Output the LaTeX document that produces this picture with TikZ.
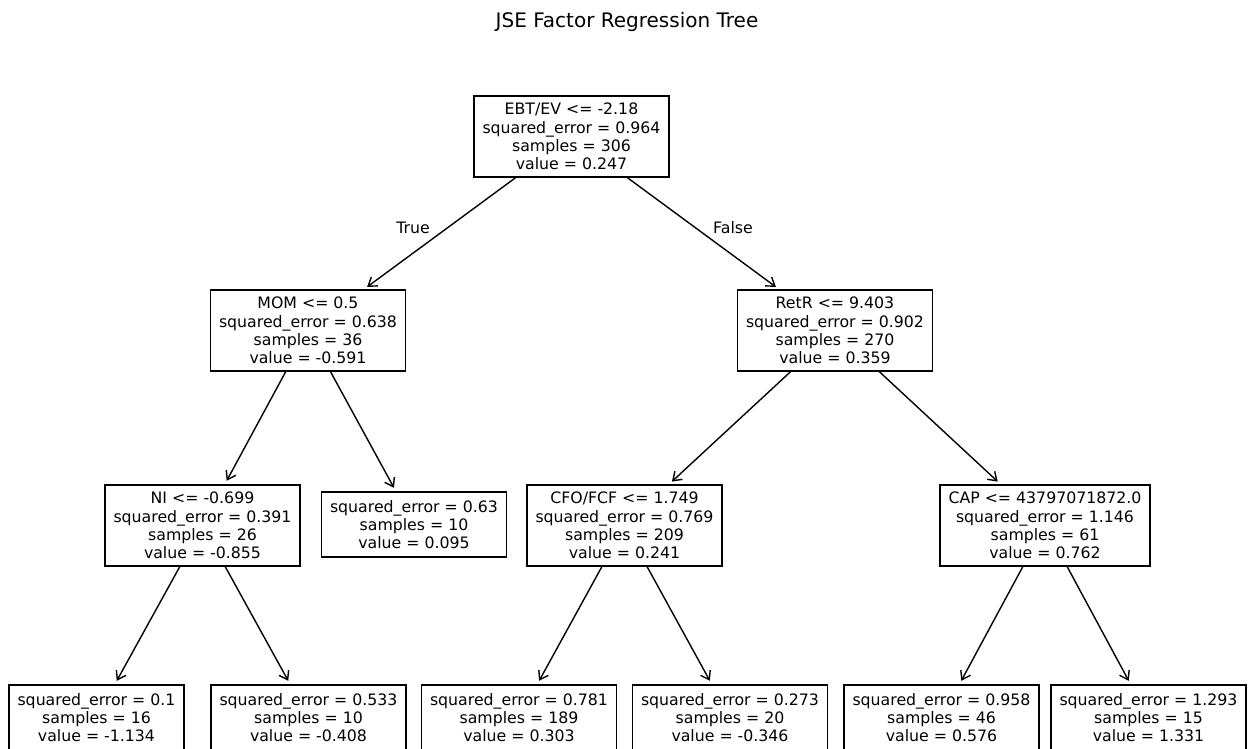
\documentclass[tikz,border=0pt]{standalone}
\usepackage{fontspec}
\setmainfont{DejaVu Sans}
\usetikzlibrary{arrows.meta}
\begin{document}
\begin{tikzpicture}[x=0.5pt,y=-0.5pt,
  treebox/.style={draw=black, line width=0.7pt, fill=white, align=center,
    font=\fontsize{7.875}{9.15}\selectfont, inner xsep=4.25pt, inner ysep=0pt,
    minimum height=40.5pt},
  leafbox/.style={treebox, minimum height=32.5pt},
  edge/.style={-{Straight Barb[length=4pt,width=5.5pt]}, line width=0.7pt, shorten >=2pt},
  lbl/.style={font=\fontsize{7.875}{9.15}\selectfont, inner sep=0pt}]
\useasboundingbox (0,0) rectangle (1249,749);
\clip (0,0) rectangle (1249,749);
\node[font=\fontsize{10}{12}\selectfont, inner sep=0pt] (title) at (627,22) {JSE Factor Regression Tree};
% nodes
\node[treebox] (root) at (571.5,136.5) {EBT/EV <= -2.18\\squared\_error = 0.964\\samples = 306\\value = 0.247};
\node[treebox] (mom) at (308,330.5) {MOM <= 0.5\\squared\_error = 0.638\\samples = 36\\value = -0.591};
\node[treebox] (retr) at (835,330.5) {RetR <= 9.403\\squared\_error = 0.902\\samples = 270\\value = 0.359};
\node[treebox] (ni) at (202.5,525.5) {NI <= -0.699\\squared\_error = 0.391\\samples = 26\\value = -0.855};
\node[leafbox] (l063) at (414,524.5) {squared\_error = 0.63\\samples = 10\\value = 0.095};
\node[treebox] (cfo) at (624.5,525.5) {CFO/FCF <= 1.749\\squared\_error = 0.769\\samples = 209\\value = 0.241};
\node[treebox] (cap) at (1045,525.5) {CAP <= 43797071872.0\\squared\_error = 1.146\\samples = 61\\value = 0.762};
\node[leafbox] (la) at (96.5,717.5) {squared\_error = 0.1\\samples = 16\\value = -1.134};
\node[leafbox] (lb) at (308.5,717.5) {squared\_error = 0.533\\samples = 10\\value = -0.408};
\node[leafbox] (lc) at (519,717.5) {squared\_error = 0.781\\samples = 189\\value = 0.303};
\node[leafbox] (ld) at (730,717.5) {squared\_error = 0.273\\samples = 20\\value = -0.346};
\node[leafbox] (le) at (941.5,717.5) {squared\_error = 0.958\\samples = 46\\value = 0.576};
\node[leafbox] (lf) at (1148.5,717.5) {squared\_error = 1.293\\samples = 15\\value = 1.331};
% edges
\draw[edge] (root) -- (mom);
\draw[edge] (root) -- (retr);
\draw[edge] (mom) -- (ni);
\draw[edge] (mom) -- (l063);
\draw[edge] (retr) -- (cfo);
\draw[edge] (retr) -- (cap);
\draw[edge] (ni) -- (la);
\draw[edge] (ni) -- (lb);
\draw[edge] (cfo) -- (lc);
\draw[edge] (cfo) -- (ld);
\draw[edge] (cap) -- (le);
\draw[edge] (cap) -- (lf);
% edge labels
\node[lbl] (ltrue) at (413,228) {True};
\node[lbl] (lfalse) at (733,228) {False};
\end{tikzpicture}
\end{document}
